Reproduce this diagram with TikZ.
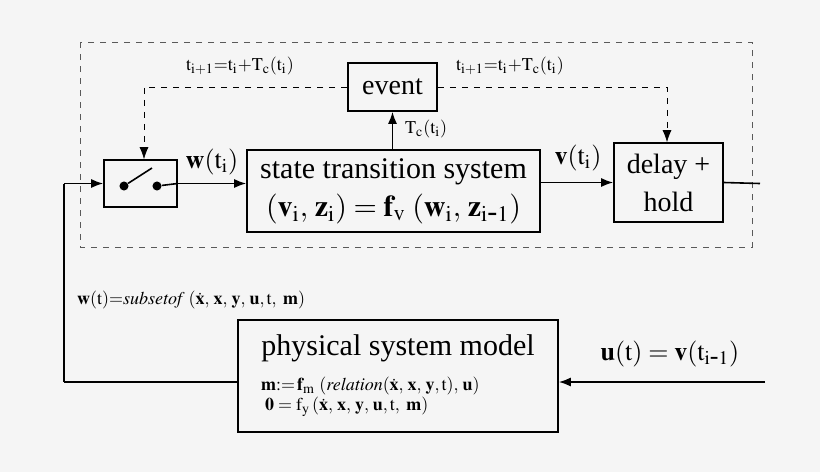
\documentclass[tikz,border=0pt]{standalone}
\usepackage{mathptmx}
\usepackage{fontspec}
\setmainfont{Liberation Serif}
\usetikzlibrary{positioning,arrows.meta}

\begin{document}
\begin{tikzpicture}[x=0.5pt,y=-0.5pt,
		blk/.style={draw,thick,inner sep=0pt},
		sig/.style={draw,thick,-{Latex[length=6pt]}},
		evt/.style={draw,dashed,-{Latex[length=6pt]}},
		lbl/.style={font=\fontsize{9}{10}\selectfont},
		mlbl/.style={font=\fontsize{13}{14}\selectfont}]
	\useasboundingbox[fill=white!96!black] (0,0) rectangle (820,472);
	% frame around the discrete part
	\draw[dashed,gray!70!black] (80,42) rectangle (752,247);
	%
	\node[blk,minimum width=36.5pt,minimum height=23.5pt] (sw) at (140.5,183.5) {};
	\node[blk,minimum width=146.5pt,minimum height=41pt,align=center,font=\fontsize{15}{19}\selectfont] (sts) at (393.5,191)
		{state transition system\\$(\mathbf{v}_{\mathrm{i}},\,\mathbf{z}_{\mathrm{i}})=\mathbf{f}_{\mathrm{v}}\;(\mathbf{w}_{\mathrm{i}},\,\mathbf{z}_{\mathrm{i\mbox{-}1}})$};
	\node[blk,minimum width=44.5pt,minimum height=24pt,font=\fontsize{14}{16}\selectfont] (ev) at (392.5,87) {event};
	\node[blk,minimum width=54.5pt,minimum height=39.5pt,align=center,font=\fontsize{14}{19}\selectfont] (dh) at (668.5,182.5) {delay +\\hold};
	\node[blk,minimum width=160pt,minimum height=56pt] (psm) at (398,376) {};
	\node[font=\fontsize{15}{16}\selectfont,below=4pt of psm.north] (psmt) {physical system model};
	\node[lbl,anchor=west,align=left] (psme) at (254,397)
		{$\mathbf{m}{:=}\,\mathbf{f}_{\mathrm{m}}\ (\mathit{relation}(\dot{\mathbf{x}},\,\mathbf{x},\,\mathbf{y},\mathrm{t}),\,\mathbf{u})$\\
		 $\;\mathbf{0}=\mathrm{f}_{\mathrm{y}}\,(\dot{\mathbf{x}},\,\mathbf{x},\,\mathbf{y},\,\mathbf{u},\mathrm{t},\ \mathbf{m})$};
	% switch
	\node[circle,fill,inner sep=1.6pt] (d1) at (124,186) {};
	\node[circle,fill,inner sep=1.6pt] (d2) at (157,186) {};
	\coordinate (lev) at (152,168);
	\draw[thick] (d1) -- (lev);
	\draw[thick] (d2) -- (sw.east);
	% coordinates
	\coordinate (in) at (64,183.5);
	\coordinate (fb) at (64,382);
	\coordinate (out) at (760,183.5);
	\coordinate (uin) at (765,382);
	\coordinate (el) at (144,87);
	\coordinate (er) at (667,87);
	% connectors
	\draw[thick] (fb) -- (in);
	\draw[sig] (in) -- (sw.west);
	\draw[thick] (fb) -- (psm.west |- fb);
	\draw[sig] (sw.east) -- (sts.west |- sw.east);
	\draw[sig] (sts.east |- dh.west) -- (dh.west);
	\draw[thick] (dh.east) -- (out);
	\draw[sig] (sts.north -| ev.south) -- (ev.south);
	\draw[sig] (uin) -- (psm.east |- uin);
	\draw[evt] (ev.west) -- (el) -- (el |- sw.north);
	\draw[evt] (ev.east) -- (er) -- (er |- dh.north);
	% labels
	\node[lbl] at (240,66) {$\mathrm{t}_{\mathrm{i+1}}{=}\mathrm{t}_{\mathrm{i}}{+}\mathrm{T}_{\mathrm{c}}(\mathrm{t}_{\mathrm{i}})$};
	\node[lbl] at (510,66) {$\mathrm{t}_{\mathrm{i+1}}{=}\mathrm{t}_{\mathrm{i}}{+}\mathrm{T}_{\mathrm{c}}(\mathrm{t}_{\mathrm{i}})$};
	\node[lbl,anchor=west] at (398,129) {$\mathrm{T}_{\mathrm{c}}(\mathrm{t}_{\mathrm{i}})$};
	\node[mlbl] at (212,162) {$\mathbf{w}(\mathrm{t}_{\mathrm{i}})$};
	\node[mlbl] at (578,158) {$\mathbf{v}(\mathrm{t}_{\mathrm{i}})$};
	\node[lbl,anchor=west] at (70,300) {$\mathbf{w}(\mathrm{t}){=}\mathit{subsetof}\;(\dot{\mathbf{x}},\,\mathbf{x},\,\mathbf{y},\,\mathbf{u},\mathrm{t},\ \mathbf{m})$};
	\node[mlbl] at (670,354) {$\mathbf{u}(\mathrm{t})=\mathbf{v}(\mathrm{t}_{\mathrm{i\mbox{-}1}})$};
\end{tikzpicture}
\end{document}
